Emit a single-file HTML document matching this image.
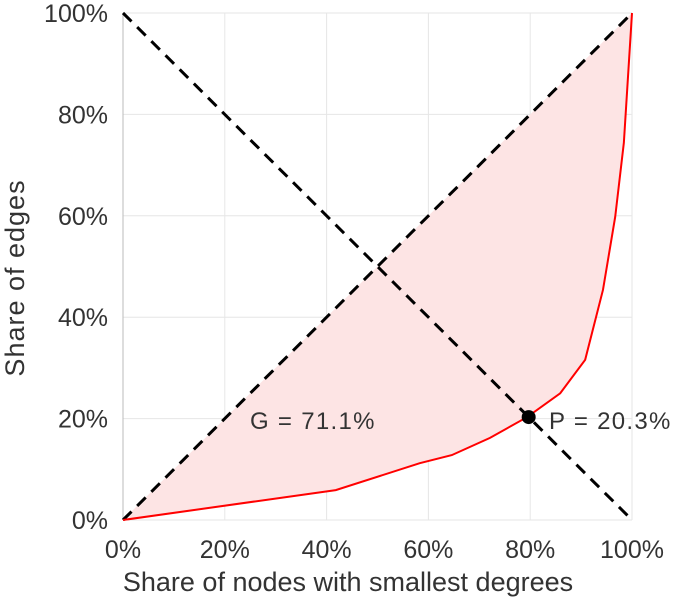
<!DOCTYPE html>
<html><head><meta charset="utf-8"><style>
body{margin:0;background:#fff;}
svg text{font-family:"Liberation Sans",sans-serif;fill:#333;}
</style></head><body>
<svg id="chart" width="691" height="600"></svg>
<script>
const xs=[0,0.418,0.583,0.646,0.721,0.794,0.859,0.908,0.943,0.967,0.984,1];
const ys=[0,0.059,0.112,0.128,0.162,0.203,0.250,0.316,0.454,0.598,0.744,1];
const ticks=[0,0.2,0.4,0.6,0.8,1];
const tickLabels=["0%","20%","40%","60%","80%","100%"];
const pPoint=[0.797,0.203];
const gLabel="G = 71.1%", pLabel="P = 20.3%";
const NS="http://www.w3.org/2000/svg";
const svg=document.getElementById('chart');
const X=v=>123+v*509, Y=v=>520-v*507;
function mk(t,a,txt){const e=document.createElementNS(NS,t);for(const k in a)e.setAttribute(k,a[k]);if(txt!=null)e.textContent=txt;svg.appendChild(e);return e;}
ticks.forEach((t,i)=>{
 let g=mk('line',{x1:X(t),x2:X(t),y1:Y(0),y2:Y(1),stroke:'#e6e6e6','stroke-width':1});
 
 g=mk('line',{x1:X(0),x2:X(1),y1:Y(t),y2:Y(t),stroke:'#e6e6e6','stroke-width':1});
 
 let l=mk('text',{x:X(t),y:558,'font-size':25,'text-anchor':'middle'},tickLabels[i]);
 
 l=mk('text',{x:108,y:Y(t)+9,'font-size':25,'text-anchor':'end'},tickLabels[i]);
 
});
let pts=xs.map((x,i)=>X(x)+','+Y(ys[i]));
let area=mk('polygon',{points:pts.join(' '),fill:'#fde4e4'});

let ax=mk('line',{x1:X(0),x2:X(0),y1:Y(0),y2:Y(1),stroke:'#bbb','stroke-width':1});

let d1=mk('line',{x1:X(0),y1:Y(0),x2:X(1),y2:Y(1),stroke:'#000','stroke-width':3,'stroke-dasharray':'12,8'});

let d2=mk('line',{x1:X(0),y1:Y(1),x2:X(1),y2:Y(0),stroke:'#000','stroke-width':3,'stroke-dasharray':'12,8'});

let c=mk('polyline',{points:pts.join(' '),fill:'none',stroke:'#f00','stroke-width':2});

let p=mk('circle',{cx:X(pPoint[0]),cy:Y(pPoint[1]),r:7,fill:'#000'});

let t=mk('text',{x:549,y:429,'font-size':24,'letter-spacing':'1.3',fill:'#222'},pLabel);

t=mk('text',{x:250,y:429,'font-size':24,'letter-spacing':'1.3',fill:'#222'},gLabel);

t=mk('text',{x:348,y:591,'font-size':27,'text-anchor':'middle'},'Share of nodes with smallest degrees');

t=mk('text',{x:24,y:278,'font-size':27,'text-anchor':'middle','letter-spacing':'1',transform:'rotate(-90 24 278)'},'Share of edges');

</script>
</body></html>
